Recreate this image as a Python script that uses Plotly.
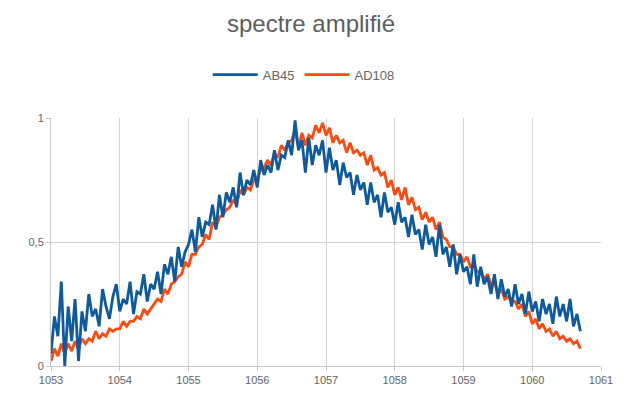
import numpy as np
import plotly.graph_objects as go

wl_start = 1053.0
wl_step = 0.05

ab45 = [
    0.05, 0.20, 0.12, 0.34, 0.00, 0.24, 0.10, 0.27, 0.02, 0.22,
    0.14, 0.29, 0.20, 0.23, 0.16, 0.31, 0.24, 0.19, 0.28, 0.33,
    0.22, 0.27, 0.25, 0.34, 0.21, 0.30, 0.29, 0.37, 0.26, 0.33,
    0.31, 0.38, 0.29, 0.41, 0.37, 0.44, 0.34, 0.48, 0.40, 0.46,
    0.49, 0.55, 0.46, 0.60, 0.52, 0.58, 0.57, 0.65, 0.55, 0.69,
    0.60, 0.70, 0.66, 0.72, 0.64, 0.78, 0.69, 0.75, 0.73, 0.79,
    0.72, 0.83, 0.77, 0.81, 0.78, 0.87, 0.79, 0.85, 0.84, 0.91,
    0.85, 0.99, 0.87, 0.91, 0.78, 0.92, 0.81, 0.89, 0.85, 0.91,
    0.78, 0.88, 0.79, 0.83, 0.73, 0.82, 0.76, 0.78, 0.69, 0.77,
    0.71, 0.74, 0.65, 0.74, 0.66, 0.69, 0.60, 0.70, 0.62, 0.64,
    0.57, 0.66, 0.58, 0.60, 0.52, 0.61, 0.53, 0.55, 0.47, 0.57,
    0.49, 0.52, 0.44, 0.57, 0.45, 0.48, 0.40, 0.49, 0.37, 0.45,
    0.38, 0.40, 0.33, 0.45, 0.32, 0.40, 0.33, 0.36, 0.29, 0.37,
    0.27, 0.35, 0.28, 0.31, 0.24, 0.33, 0.25, 0.29, 0.21, 0.30,
    0.22, 0.26, 0.18, 0.27, 0.21, 0.25, 0.17, 0.28, 0.20, 0.25,
    0.18, 0.27, 0.16, 0.21, 0.14,
]

ad108 = [
    0.02, 0.07, 0.04, 0.09, 0.05, 0.09, 0.06, 0.10, 0.07, 0.11,
    0.09, 0.11, 0.10, 0.14, 0.11, 0.13, 0.12, 0.15, 0.14, 0.15,
    0.15, 0.18, 0.16, 0.18, 0.18, 0.20, 0.19, 0.23, 0.21, 0.23,
    0.25, 0.27, 0.26, 0.31, 0.29, 0.33, 0.34, 0.36, 0.37, 0.42,
    0.40, 0.45, 0.45, 0.48, 0.49, 0.53, 0.51, 0.58, 0.56, 0.60,
    0.61, 0.63, 0.64, 0.67, 0.65, 0.71, 0.69, 0.72, 0.71, 0.75,
    0.76, 0.79, 0.80, 0.83, 0.81, 0.86, 0.84, 0.89, 0.87, 0.90,
    0.91, 0.95, 0.88, 0.94, 0.89, 0.93, 0.92, 0.97, 0.94, 0.98,
    0.93, 0.96, 0.90, 0.93, 0.90, 0.91, 0.86, 0.90, 0.86, 0.87,
    0.85, 0.86, 0.81, 0.85, 0.79, 0.80, 0.77, 0.78, 0.72, 0.75,
    0.69, 0.72, 0.67, 0.72, 0.65, 0.68, 0.63, 0.64, 0.59, 0.62,
    0.58, 0.60, 0.55, 0.58, 0.52, 0.51, 0.48, 0.48, 0.45, 0.45,
    0.42, 0.44, 0.40, 0.41, 0.38, 0.38, 0.35, 0.37, 0.33, 0.34,
    0.29, 0.31, 0.27, 0.28, 0.26, 0.26, 0.23, 0.25, 0.20, 0.22,
    0.17, 0.19, 0.15, 0.17, 0.14, 0.15, 0.12, 0.14, 0.11, 0.12,
    0.10, 0.11, 0.09, 0.10, 0.07,
]

wavelength = np.round(wl_start + wl_step * np.arange(len(ab45)), 3)

x_ticks = [1053, 1054, 1055, 1056, 1057, 1058, 1059, 1060, 1061]
y_ticks = [0, 0.5, 1]
y_tick_labels = ["0", "0,5", "1"]

fig = go.Figure()
fig.add_trace(go.Scatter(x=wavelength, y=ad108, name="AD108", mode="lines",
                         line=dict(color="#ff4a10", width=2.8), legendrank=2))
fig.add_trace(go.Scatter(x=wavelength, y=ab45, name="AB45", mode="lines",
                         line=dict(color="#0d5a9e", width=2.8), legendrank=1))

fig.update_layout(
    width=627, height=397,
    margin=dict(l=51, r=26, t=118, b=31),
    paper_bgcolor="white", plot_bgcolor="white",
    font=dict(family="Liberation Sans, Arial, sans-serif", color="#666666", size=11),
    title=dict(text="spectre amplifié", x=0.496, xanchor="center", y=0.94, yanchor="middle",
               font=dict(size=24, color="#5e5e5e")),
    legend=dict(orientation="h", x=0.285, xanchor="left", y=1.175, yanchor="middle",
                font=dict(size=13, color="#666666"), itemwidth=45,
                traceorder="normal"),
    showlegend=True,
)
fig.update_xaxes(range=[1053, 1061], tickvals=x_ticks, ticktext=[str(t) for t in x_ticks],
                 showgrid=True, gridcolor="#d4d4d4", gridwidth=1,
                 showline=True, linecolor="#c8c8c8", ticks="outside", ticklen=4,
                 tickcolor="#c8c8c8", zeroline=False, tickfont=dict(size=11))
fig.update_yaxes(range=[0, 1], tickvals=y_ticks, ticktext=y_tick_labels,
                 showgrid=True, gridcolor="#d4d4d4", gridwidth=1,
                 showline=True, linecolor="#c8c8c8", ticks="outside", ticklen=4,
                 tickcolor="#c8c8c8", zeroline=False, tickfont=dict(size=11))

fig.write_html("out.html", config={"displayModeBar": False},
               post_script="document.body.style.margin='0';")
